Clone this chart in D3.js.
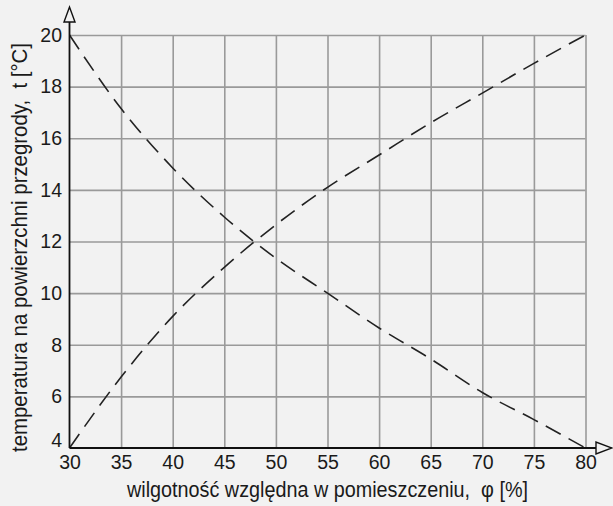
<!DOCTYPE html>
<html>
<head>
<meta charset="utf-8">
<script src="https://cdn.jsdelivr.net/npm/d3@7"></script>
<style>
  body { margin: 0; background: #f2f2f2; }
  text { font-family: "Liberation Sans", Arial, sans-serif; fill: #1a1a1a; }
</style>
</head>
<body>
<div id="chart"></div>
<script>
// relative humidity [%] and surface temperature [°C]
const humidity = [30, 35, 40, 45, 50, 55, 60, 65, 70, 75, 80];
const tempFalling = [20, 17.15, 14.85, 12.95, 11.35, 10.0, 8.65, 7.45, 6.15, 5.1, 4.0];
const tempRising = [4, 6.75, 9.1, 11.0, 12.65, 14.1, 15.35, 16.6, 17.75, 18.9, 20];

const xTicks = [30, 35, 40, 45, 50, 55, 60, 65, 70, 75, 80];
const yTicks = [4, 6, 8, 10, 12, 14, 16, 18, 20];

const xTitle = "wilgotność względna w pomieszczeniu,  φ [%]";
const yTitle = "temperatura na powierzchni przegrody,  t [°C]";

const width = 613, height = 506;

const svg = d3.select("#chart")
  .append("svg")
    .attr("width", width)
    .attr("height", height);

svg.append("rect")
  .attr("width", width)
  .attr("height", height)
  .attr("fill", "#f2f2f2");

const x = d3.scaleLinear().domain([30, 80]).range([69.5, 585.5]);
const y = d3.scaleLinear().domain([4, 20]).range([448, 35]);

const plotH = y(4) - y(20);
const plotW = x(80) - x(30);

// grid
const gridX = svg.append("g")
  .attr("transform", `translate(0,${y(4)})`)
  .call(d3.axisBottom(x).tickValues(xTicks.slice(1)).tickSize(-plotH).tickFormat(""));
const gridY = svg.append("g")
  .attr("transform", `translate(${x(30)},0)`)
  .call(d3.axisLeft(y).tickValues(yTicks.slice(1)).tickSize(-plotW).tickFormat(""));
[gridX, gridY].forEach(g => {
  g.select(".domain").remove();
  g.selectAll("line").attr("stroke", "#9a9a9a").attr("stroke-width", 1.6);
});

// tick labels
const xAxis = svg.append("g")
  .attr("transform", `translate(0,${y(4)})`)
  .call(d3.axisBottom(x).tickValues(xTicks).tickSize(0).tickPadding(7));
const yAxis = svg.append("g")
  .attr("transform", `translate(${x(30)},0)`)
  .call(d3.axisLeft(y).tickValues(yTicks).tickSize(0).tickPadding(7.5));
[xAxis, yAxis].forEach(g => {
  g.select(".domain").remove();
  g.selectAll("text")
    .style("font-family", '"Liberation Sans", Arial, sans-serif')
    .style("font-size", "19.5px")
    .attr("fill", "#1a1a1a");
});
// lowest y label sits on the axis, not centred on it
yAxis.selectAll(".tick text").filter(d => d === 4).attr("dy", "-0.08em");

// curves
const line = d3.line()
  .x((d, i) => x(humidity[i]))
  .y(d => y(d))
  .curve(d3.curveMonotoneX);

[tempFalling, tempRising].forEach(series => {
  svg.append("path")
    .datum(series)
    .attr("d", line)
    .attr("fill", "none")
    .attr("stroke", "#222")
    .attr("stroke-width", 1.6)
    .attr("stroke-dasharray", "17,9");
});

// axes with open arrows
svg.append("line")
  .attr("x1", x(30)).attr("y1", y(4))
  .attr("x2", x(30)).attr("y2", 22)
  .attr("stroke", "#111").attr("stroke-width", 1.8);
svg.append("line")
  .attr("x1", x(30)).attr("y1", y(4))
  .attr("x2", 596).attr("y2", y(4))
  .attr("stroke", "#111").attr("stroke-width", 1.8);

svg.append("path")
  .attr("d", `M${x(30) - 5.5},22 L${x(30) + 5.5},22 L${x(30)},7 Z`)
  .attr("fill", "#f2f2f2").attr("stroke", "#111").attr("stroke-width", 1.4);
svg.append("path")
  .attr("d", `M596,${y(4) - 6} L596,${y(4) + 6} L612,${y(4)} Z`)
  .attr("fill", "#f2f2f2").attr("stroke", "#111").attr("stroke-width", 1.4);

// titles
svg.append("text")
  .attr("x", 327.5)
  .attr("y", 497)
  .attr("text-anchor", "middle")
  .style("font-size", "22px")
  .style("white-space", "pre")
  .attr("textLength", 401)
  .attr("lengthAdjust", "spacingAndGlyphs")
  .text(xTitle);

svg.append("text")
  .attr("transform", "translate(27,247.5) rotate(-90)")
  .attr("text-anchor", "middle")
  .style("font-size", "22px")
  .style("white-space", "pre")
  .attr("textLength", 409)
  .attr("lengthAdjust", "spacingAndGlyphs")
  .text(yTitle);
</script>
</body>
</html>
